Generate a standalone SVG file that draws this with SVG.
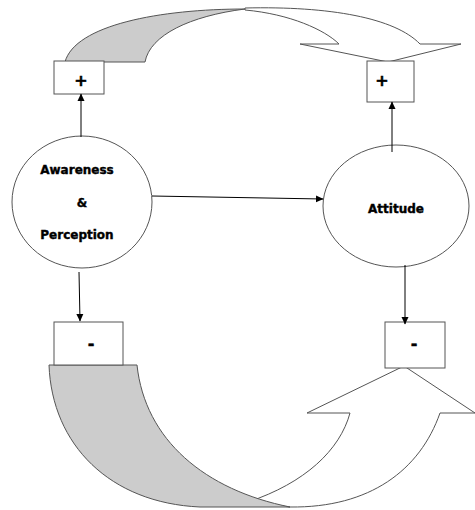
<svg xmlns="http://www.w3.org/2000/svg" width="475" height="510" viewBox="0 0 475 510">
<style>
.shape{fill:#fff;stroke:#555;stroke-width:1}
.gray{fill:#cccccc;stroke:#555;stroke-width:1}
.lbl{font-family:"DejaVu Sans",sans-serif;font-weight:bold;font-size:12px;fill:#000;stroke:#000;stroke-width:0.4;text-anchor:middle}
.sign{font-family:"DejaVu Sans",sans-serif;font-weight:bold;font-size:16px;fill:#000;stroke:#000;stroke-width:0.5;text-anchor:middle}
.conn{stroke:#000;stroke-width:1;fill:none}
</style>
<defs>
<marker id="ah" markerWidth="8" markerHeight="8" refX="7" refY="4" orient="auto" markerUnits="userSpaceOnUse">
<path d="M0,0.5 L7.5,4 L0,7.5 Z" fill="#000"/>
</marker>
</defs>
<rect width="475" height="510" fill="#fff"/>
<g id="top-loop">
<path class="shape" d="M245,10 C290,14 325,30 339,44 L300,44 L388,62 L461,44 L420,44 C395,18 330,6 245,8 Z"/>
<path class="gray" d="M65,62 C75,25 160,9 245,9 C190,16 150,35 145,62 Z"/>
</g>
<g id="bottom-loop">
<path class="shape" d="M248,502 C305,483 340,450 350,413 L307,413 L404,366 L475,413 L440,413 C420,470 370,508 290,507 Z"/>
<path class="gray" d="M49,365 L137,365 C145,440 205,490 290,507 L200,507 C110,503 52,445 49,365 Z"/>
</g>
<g id="plus-left"><rect class="shape" x="54" y="61" width="50" height="33"/><text class="sign" x="81" y="86">+</text></g>
<g id="plus-right"><rect class="shape" x="367" y="61" width="47" height="41"/><text class="sign" x="382" y="86">+</text></g>
<g id="minus-left"><rect class="shape" x="54" y="322" width="69" height="43"/><text class="sign" x="91" y="349">-</text></g>
<g id="minus-right"><rect class="shape" x="385" y="322" width="60" height="46"/><text class="sign" x="414" y="349">-</text></g>
<g id="awareness"><ellipse class="shape" cx="82" cy="202" rx="70" ry="66"/>
<text class="lbl" x="77" y="174">Awareness</text>
<text class="lbl" x="82" y="207">&amp;</text>
<text class="lbl" x="77" y="239">Perception</text></g>
<g id="attitude"><ellipse class="shape" cx="396" cy="206" rx="73" ry="61"/>
<text class="lbl" x="396" y="213">Attitude</text></g>
<g id="connectors">
<line class="conn" x1="152" y1="196" x2="323" y2="199" marker-end="url(#ah)"/>
<line class="conn" x1="81" y1="137" x2="81" y2="94" marker-end="url(#ah)"/>
<line class="conn" x1="392" y1="152" x2="392" y2="102" marker-end="url(#ah)"/>
<line class="conn" x1="79" y1="272" x2="80" y2="321" marker-end="url(#ah)"/>
<line class="conn" x1="405" y1="265" x2="405" y2="324" marker-end="url(#ah)"/>
</g>
</svg>
